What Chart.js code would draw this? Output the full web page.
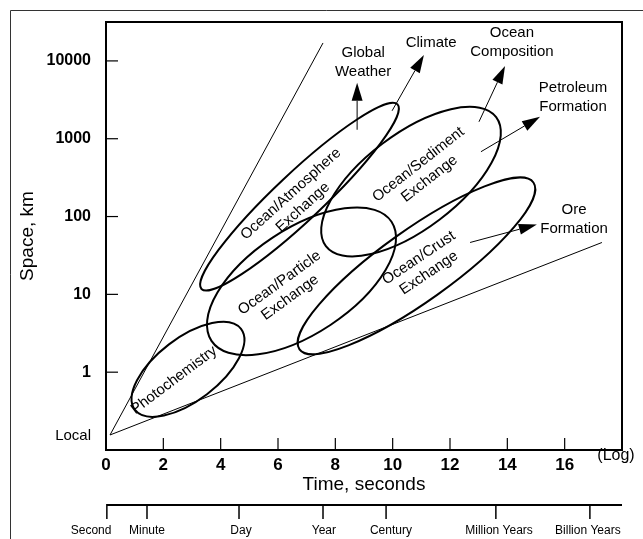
<!DOCTYPE html>
<html>
<head>
<meta charset="utf-8">
<script src="https://cdn.jsdelivr.net/npm/chart.js@4.4.1/dist/chart.umd.min.js"></script>
<style>
    html, body { margin: 0; padding: 0; background: #fff; }
    #wrap { width: 643px; height: 539px; }
</style>
</head>
<body>
<div id="wrap"><canvas id="scales-chart" width="643" height="539"></canvas></div>
<script>
/**
 * Space and time scales of ocean processes
 */

const FONT = "'Liberation Sans', Arial, Helvetica, sans-serif";

// axes (x: log10 of seconds, y: km on a log axis)
const xTickValues = [0, 2, 4, 6, 8, 10, 12, 14, 16];
const xTickLabels = ['0', '2', '4', '6', '8', '10', '12', '14', '16'];
const LOCAL = 0.15;
const yTickValues = [LOCAL, 1, 10, 100, 1000, 10000];
const yTickLabels = ['Local', '1', '10', '100', '1000', '10000'];

// time units under the axis
const timeUnits = ['Second', 'Minute', 'Day', 'Year', 'Century', 'Million Years', 'Billion Years'];
const timeUnitTicks = [0.03, 1.43, 4.64, 7.57, 9.77, 13.6, 16.88];
const timeUnitLabelAt = [-0.52, 1.43, 4.71, 7.6, 9.94, 13.71, 16.81];

// bounding lines from the local point
const upperBound = [{ x: 0.14, y: 0.156 }, { x: 7.57, y: 17000 }];
const lowerBound = [{ x: 0.14, y: 0.156 }, { x: 17.3, y: 46.4 }];

// process regions: centre, end of long axis, width ratio
const regionNames = [
    ['Photochemistry'],
    ['Ocean/Particle', 'Exchange'],
    ['Ocean/Atmosphere', 'Exchange'],
    ['Ocean/Sediment', 'Exchange'],
    ['Ocean/Crust', 'Exchange']
];
const regionCenters = [[2.86, 1.09], [6.82, 14.7], [6.75, 180], [10.64, 281], [10.83, 23.2]];
const regionTips = [[4.71, 3.61], [9.96, 85.7], [10.17, 2760], [13.61, 1897], [14.91, 274]];
const regionWidths = [0.47, 0.485, 0.176, 0.445, 0.248];
const regionLabelAt = [[2.37, 0.789], [6.24, 11.3], [6.66, 160], [11.09, 377], [11.09, 23.5]];
const regionLabelAngle = [37, 36, 42, 38, 34];

// processes outside the regions, with arrows
const processNames = [
    ['Global', 'Weather'],
    ['Climate'],
    ['Ocean', 'Composition'],
    ['Petroleum', 'Formation'],
    ['Ore', 'Formation']
];
const processLabelAt = [[8.97, 9570], [11.34, 17020], [14.16, 17530], [16.29, 3356], [16.33, 91.6]];
const arrowFrom = [[8.76, 1304], [9.98, 2286], [13.01, 1651], [13.08, 681], [12.70, 46.4]];
const arrowTo = [[8.76, 5224], [11.09, 11940], [13.92, 8630], [15.14, 1914], [15.03, 78.9]];

function toPx(chart, p) {
    return [chart.scales.x.getPixelForValue(p[0]), chart.scales.y.getPixelForValue(p[1])];
}

function drawLines(ctx, lines, x, y, lineHeight) {
    const top = y - (lines.length - 1) * lineHeight / 2;
    lines.forEach((t, i) => ctx.fillText(t, x, top + i * lineHeight));
}

function drawArrow(ctx, from, to) {
    const ang = Math.atan2(to[1] - from[1], to[0] - from[0]);
    const len = 18, half = 5.5;
    const bx = to[0] - len * Math.cos(ang), by = to[1] - len * Math.sin(ang);
    ctx.beginPath();
    ctx.moveTo(from[0], from[1]);
    ctx.lineTo(bx, by);
    ctx.lineWidth = 1;
    ctx.stroke();
    ctx.beginPath();
    ctx.moveTo(to[0], to[1]);
    ctx.lineTo(bx + half * Math.sin(ang), by - half * Math.cos(ang));
    ctx.lineTo(bx - half * Math.sin(ang), by + half * Math.cos(ang));
    ctx.closePath();
    ctx.fill();
}

const overlayPlugin = {
    id: 'overlay',
    beforeDraw(chart) {
        const ctx = chart.ctx;
        ctx.save();
        ctx.fillStyle = '#fff';
        ctx.fillRect(0, 0, chart.width, chart.height);
        ctx.restore();
    },
    afterDatasetsDraw(chart) {
        const ctx = chart.ctx;
        const area = chart.chartArea;
        const xs = chart.scales.x, ys = chart.scales.y;
        ctx.save();
        ctx.strokeStyle = '#000';
        ctx.fillStyle = '#000';

        // regions
        regionNames.forEach((lines, i) => {
            const c = toPx(chart, regionCenters[i]);
            const t = toPx(chart, regionTips[i]);
            const a = Math.hypot(t[0] - c[0], t[1] - c[1]);
            const rot = Math.atan2(t[1] - c[1], t[0] - c[0]);
            ctx.beginPath();
            ctx.ellipse(c[0], c[1], a, a * regionWidths[i], rot, 0, Math.PI * 2);
            ctx.lineWidth = 2;
            ctx.stroke();
        });

        ctx.font = '15px ' + FONT;
        ctx.textAlign = 'center';
        ctx.textBaseline = 'middle';
        regionNames.forEach((lines, i) => {
            const p = toPx(chart, regionLabelAt[i]);
            ctx.save();
            ctx.translate(p[0], p[1]);
            ctx.rotate(-regionLabelAngle[i] * Math.PI / 180);
            drawLines(ctx, lines, 0, 0, 18);
            ctx.restore();
        });

        // processes
        processNames.forEach((lines, i) => {
            const p = toPx(chart, processLabelAt[i]);
            drawLines(ctx, lines, p[0], p[1], 19);
            drawArrow(ctx, toPx(chart, arrowFrom[i]), toPx(chart, arrowTo[i]));
        });

        // inward tick marks
        ctx.lineWidth = 1.2;
        ys.ticks.forEach(t => {
            if (t.value === LOCAL) return;
            const y = ys.getPixelForValue(t.value);
            ctx.beginPath();
            ctx.moveTo(area.left, y);
            ctx.lineTo(area.left + 12, y);
            ctx.stroke();
        });
        xs.ticks.forEach(t => {
            if (t.value === 0) return;
            const x = xs.getPixelForValue(t.value);
            ctx.beginPath();
            ctx.moveTo(x, area.bottom);
            ctx.lineTo(x, area.bottom - 12);
            ctx.stroke();
        });

        // plot frame
        ctx.lineWidth = 2;
        ctx.strokeRect(area.left, area.top, area.right - area.left, area.bottom - area.top);

        // (Log) at the end of the x axis
        ctx.font = '16px ' + FONT;
        ctx.fillText('(Log)', xs.getPixelForValue(18) - 6, area.bottom + 6);

        // time units
        const ly = area.bottom + 55;
        ctx.lineWidth = 2;
        ctx.beginPath();
        ctx.moveTo(xs.getPixelForValue(timeUnitTicks[0]), ly);
        ctx.lineTo(xs.getPixelForValue(18), ly);
        ctx.stroke();
        ctx.lineWidth = 1.5;
        timeUnitTicks.forEach(v => {
            const x = xs.getPixelForValue(v);
            ctx.beginPath();
            ctx.moveTo(x, ly - 1);
            ctx.lineTo(x, ly + 14);
            ctx.stroke();
        });
        ctx.font = '12px ' + FONT;
        timeUnits.forEach((t, i) => {
            ctx.fillText(t, xs.getPixelForValue(timeUnitLabelAt[i]), ly + 26);
        });

        // outer frame
        ctx.strokeStyle = '#333';
        ctx.lineWidth = 1;
        ctx.beginPath();
        ctx.moveTo(10.5, chart.height);
        ctx.lineTo(10.5, 10.5);
        ctx.lineTo(chart.width, 10.5);
        ctx.stroke();
        ctx.restore();
    }
};

const boundStyle = {
    showLine: true,
    pointRadius: 0,
    borderColor: '#000',
    borderWidth: 1,
    fill: false
};

new Chart(document.getElementById('scales-chart'), {
    type: 'scatter',
    data: {
        datasets: [
            Object.assign({ label: 'upper', data: upperBound }, boundStyle),
            Object.assign({ label: 'lower', data: lowerBound }, boundStyle)
        ]
    },
    options: {
        responsive: false,
        animation: false,
        devicePixelRatio: 1,
        layout: { padding: { left: 0, top: 22, right: 21, bottom: 43 } },
        plugins: {
            legend: { display: false },
            tooltip: { enabled: false }
        },
        scales: {
            x: {
                type: 'linear',
                min: 0,
                max: 18,
                afterBuildTicks: s => { s.ticks = xTickValues.map(v => ({ value: v })); },
                afterFit: s => { s.height = 46; },
                grid: { display: false, drawTicks: false },
                border: { display: false },
                ticks: {
                    autoSkip: false,
                    maxRotation: 0,
                    padding: 5,
                    color: '#000',
                    font: { family: FONT, size: 17, weight: 'bold' },
                    callback: (v, i) => xTickLabels[i]
                },
                title: {
                    display: true,
                    text: 'Time, seconds',
                    color: '#000',
                    font: { family: FONT, size: 19 },
                    padding: { top: 0, bottom: 0 }
                }
            },
            y: {
                type: 'logarithmic',
                min: 0.1,
                max: 31623,
                afterBuildTicks: s => { s.ticks = yTickValues.map(v => ({ value: v })); },
                afterFit: s => { s.width = 106; },
                grid: { display: false, drawTicks: true, tickLength: 4 },
                border: { display: false },
                ticks: {
                    padding: 11,
                    color: '#000',
                    font: c => c.tick && c.tick.value === LOCAL
                        ? { family: FONT, size: 15 }
                        : { family: FONT, size: 16, weight: 'bold' },
                    callback: (v, i) => yTickLabels[i]
                },
                title: {
                    display: true,
                    text: 'Space, km',
                    color: '#000',
                    font: { family: FONT, size: 19 },
                    padding: { top: 16, bottom: 0 }
                }
            }
        }
    },
    plugins: [overlayPlugin]
});
</script>
</body>
</html>
